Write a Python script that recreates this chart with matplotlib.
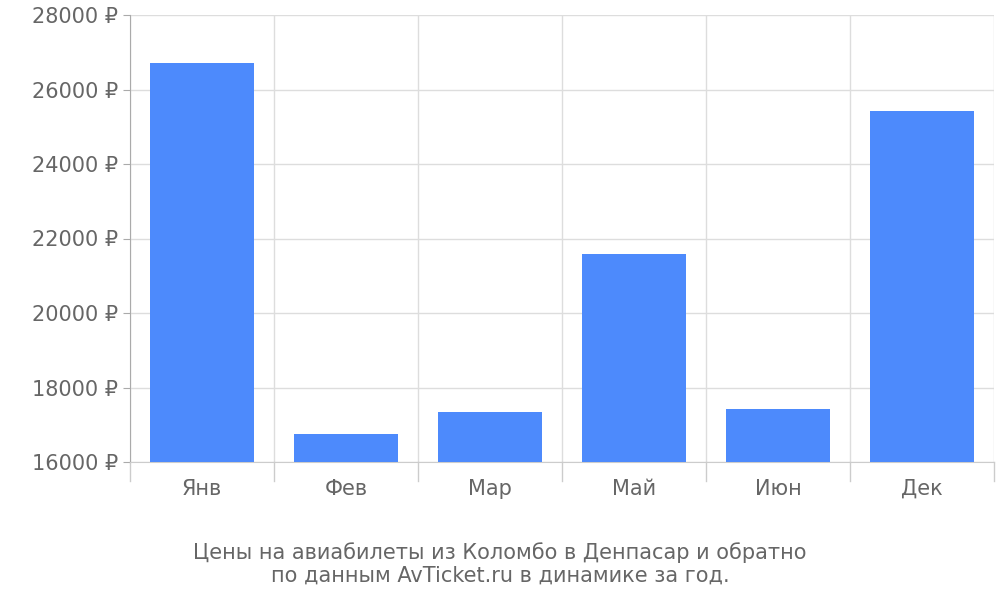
import matplotlib
matplotlib.use("Agg")
import matplotlib.pyplot as plt

months = ["Янв", "Фев", "Мар", "Май", "Июн", "Дек"]
prices = [26700, 16750, 17340, 21580, 17420, 25420]
yticks = [16000, 18000, 20000, 22000, 24000, 26000, 28000]

fig = plt.figure(figsize=(10, 6), dpi=100)
ax = fig.add_axes([0.130, 0.230, 0.864, 0.745])
x = list(range(len(months)))
ax.bar(x, prices, width=0.72, color="#4d8afc", zorder=3)
ax.set_xlim(-0.5, len(months) - 0.5)
ax.set_ylim(16000, 28000)
ax.set_yticks(yticks)
ax.set_yticklabels([f"{v} ₽" for v in yticks])
ax.set_xticks(x)
ax.set_xticklabels(months)
for b in [i + 0.5 for i in range(-1, len(months))]:
    ax.axvline(b, color="#dddddd", lw=1, zorder=0)
    ax.plot([b, b], [16000, 15500], color="#cccccc", lw=1, clip_on=False)
ax.grid(axis="y", color="#dddddd", lw=1, zorder=0)
for s in ["top", "right"]:
    ax.spines[s].set_visible(False)
ax.spines["left"].set_color("#aaaaaa")
ax.spines["bottom"].set_color("#cccccc")
ax.tick_params(axis="x", length=0, pad=12, labelsize=15, labelcolor="#666666")
ax.tick_params(axis="y", length=5, color="#aaaaaa", labelsize=15, labelcolor="#666666")
fig.text(0.5, 0.06, "Цены на авиабилеты из Коломбо в Денпасар и обратно\nпо данным AvTicket.ru в динамике за год.",
         ha="center", va="center", fontsize=15, color="#666666", linespacing=1.2)
fig.savefig("out.png")
